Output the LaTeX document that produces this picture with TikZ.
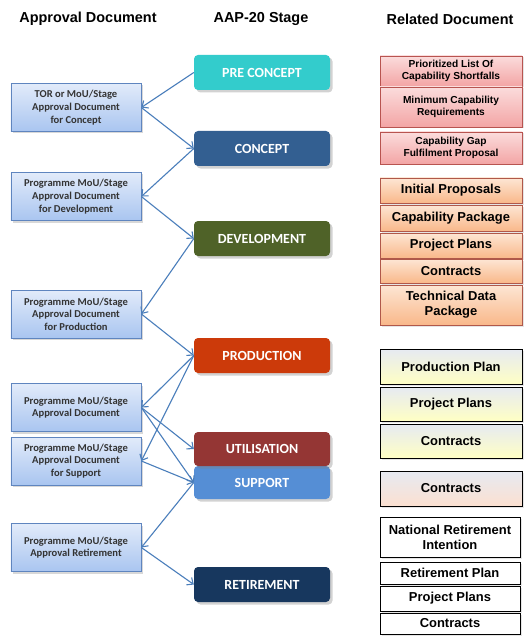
\documentclass[tikz,border=0pt]{standalone}
\usepackage{fontspec}
\setmainfont{Liberation Sans}
\newfontfamily\calfont{Carlito}
\usetikzlibrary{arrows.meta,shadows}
\definecolor{precol}{HTML}{33CCCC}
\definecolor{concol}{HTML}{335F91}
\definecolor{devcol}{HTML}{4F6228}
\definecolor{prodcol}{HTML}{CC3A0A}
\definecolor{utilcol}{HTML}{943634}
\definecolor{suppcol}{HTML}{558ED5}
\definecolor{retcol}{HTML}{17375E}
\definecolor{arrcol}{HTML}{4A7EBB}
\definecolor{lborder}{HTML}{5F85BF}
\definecolor{ltop}{HTML}{E2EBFA}
\definecolor{lbot}{HTML}{A9C5F0}
\definecolor{pinktop}{HTML}{FBDCDC}
\definecolor{pinkbot}{HTML}{F3A5A5}
\definecolor{pinkbd}{HTML}{B85450}
\definecolor{orgtop}{HTML}{FDE6D4}
\definecolor{orgbot}{HTML}{F9B88A}
\definecolor{orgbd}{HTML}{B0584A}
\definecolor{yeltop}{HTML}{E6EAF2}
\definecolor{yelbot}{HTML}{FFFFC4}
\definecolor{peachbot}{HTML}{FCE0D0}
\begin{document}
\begin{tikzpicture}[x=1bp,y=-1bp,
  hdr/.style={font=\fontsize{14.5}{16}\selectfont\bfseries},
  stage/.style={rounded corners=4bp, minimum width=136bp, minimum height=35bp, inner sep=0pt,
    text=white, font=\calfont\fontsize{14}{16}\selectfont\bfseries,
    drop shadow={shadow xshift=2.5bp, shadow yshift=-2.5bp, opacity=0.35}},
  appr/.style={draw=lborder, line width=0.7bp, top color=ltop, bottom color=lbot,
    minimum width=130bp, minimum height=48bp, inner sep=0pt, align=center,
    text=black!80, font=\calfont\fontsize{10.6}{12.7}\selectfont\bfseries,
    drop shadow={shadow xshift=2bp, shadow yshift=-2bp, opacity=0.3}},
  rel/.style={minimum width=142bp, inner sep=0pt, align=center, line width=0.7bp,
    font=\fontsize{13}{15}\selectfont\bfseries,
    drop shadow={shadow xshift=1.5bp, shadow yshift=-1.5bp, opacity=0.2}},
  pink/.style={rel, draw=pinkbd, top color=pinktop, bottom color=pinkbot,
    font=\fontsize{10.2}{11.5}\selectfont\bfseries},
  org/.style={rel, draw=orgbd, top color=orgtop, bottom color=orgbot},
  yel/.style={rel, draw=black, top color=yeltop, bottom color=yelbot},
  peach/.style={rel, draw=black, top color=yeltop, bottom color=peachbot},
  wht/.style={rel, draw=black, fill=white, minimum width=140bp},
  arr/.style={draw=arrcol, line width=1.1bp, -{Straight Barb[length=5bp,width=9bp]}}
]
\useasboundingbox (0,0) rectangle (529,642);
\fill[white] (0,0) rectangle (529,642);

% headers
\node[hdr] (h1) at (88,19) {Approval Document};
\node[hdr] (h2) at (261,19) {AAP-20 Stage};
\node[hdr] (h3) at (450,19) {Related Document};

% stages
\node[stage, fill=precol] (pre) at (262,72.5) {PRE CONCEPT};
\node[stage, fill=concol] (con) at (262,148.5) {CONCEPT};
\node[stage, fill=devcol] (dev) at (262,238.5) {DEVELOPMENT};
\node[stage, fill=prodcol] (prod) at (262,355.5) {PRODUCTION};
\node[stage, fill=suppcol, minimum height=33bp] (supp) at (262,482.5) {SUPPORT};
\node[stage, fill=utilcol, minimum height=34bp] (util) at (262,449) {UTILISATION};
\node[stage, fill=retcol] (ret) at (262,584.5) {RETIREMENT};

% approval documents
\node[appr] (l1) at (76,107.5) {TOR or MoU/Stage\\Approval Document\\for Concept};
\node[appr] (l2) at (76,196.5) {Programme MoU/Stage\\Approval Document\\for Development};
\node[appr] (l3) at (76,314) {Programme MoU/Stage\\Approval Document\\for Production};
\node[appr] (l4) at (76,407.5) {Programme MoU/Stage\\Approval Document};
\node[appr] (l5) at (76,461) {Programme MoU/Stage\\Approval Document\\for Support};
\node[appr] (l6) at (76,547.5) {Programme MoU/Stage\\Approval Retirement};

% related documents
\node[pink, minimum height=30bp] (r1) at (451,71) {Prioritized List Of\\Capability Shortfalls};
\node[pink, minimum height=40bp] (r2) at (451,107) {Minimum Capability\\Requirements};
\node[pink, minimum height=32bp] (r3) at (451,148) {Capability Gap\\Fulfilment Proposal};
\node[org, minimum height=25bp] (r4) at (451,190.5) {Initial Proposals};
\node[org, minimum height=26bp] (r5) at (451,218) {Capability Package};
\node[org, minimum height=25bp] (r6) at (451,245.5) {Project Plans};
\node[org, minimum height=24bp] (r7) at (451,271) {Contracts};
\node[org, minimum height=40bp] (r8) at (451,305) {Technical Data\\Package};
\node[yel, minimum height=35bp] (r9) at (451,366.5) {Production Plan};
\node[yel, minimum height=34bp] (r10) at (451,404) {Project Plans};
\node[yel, minimum height=34bp] (r11) at (451,441) {Contracts};
\node[peach, minimum height=35bp] (r12) at (451,488.5) {Contracts};
\node[wht, minimum height=40bp] (r13) at (450,537) {National Retirement\\Intention};
\node[wht, minimum height=22bp] (r14) at (450,573) {Retirement Plan};
\node[wht, minimum height=25bp] (r15) at (450,598.5) {Project Plans};
\node[wht, minimum height=21bp] (r16) at (450,623.5) {Contracts};

% connectors
\draw[arr] (pre.west) -- (l1.east);
\draw[arr] (l1.east) -- (con.west);
\draw[arr] (con.west) -- (l2.east);
\draw[arr] (l2.east) -- (dev.west);
\draw[arr] (dev.west) -- (l3.east);
\draw[arr] (l3.east) -- (prod.west);
\draw[arr] (prod.west) -- (l4.east);
\draw[arr] (prod.west) -- (l5.east);
\draw[arr] (l4.east) -- (util.west);
\draw[arr] (l4.east) -- (supp.west);
\draw[arr] (l5.east) -- (supp.west);
\draw[arr] (supp.west) -- (l6.east);
\draw[arr] (l6.east) -- (ret.west);
\end{tikzpicture}
\end{document}
